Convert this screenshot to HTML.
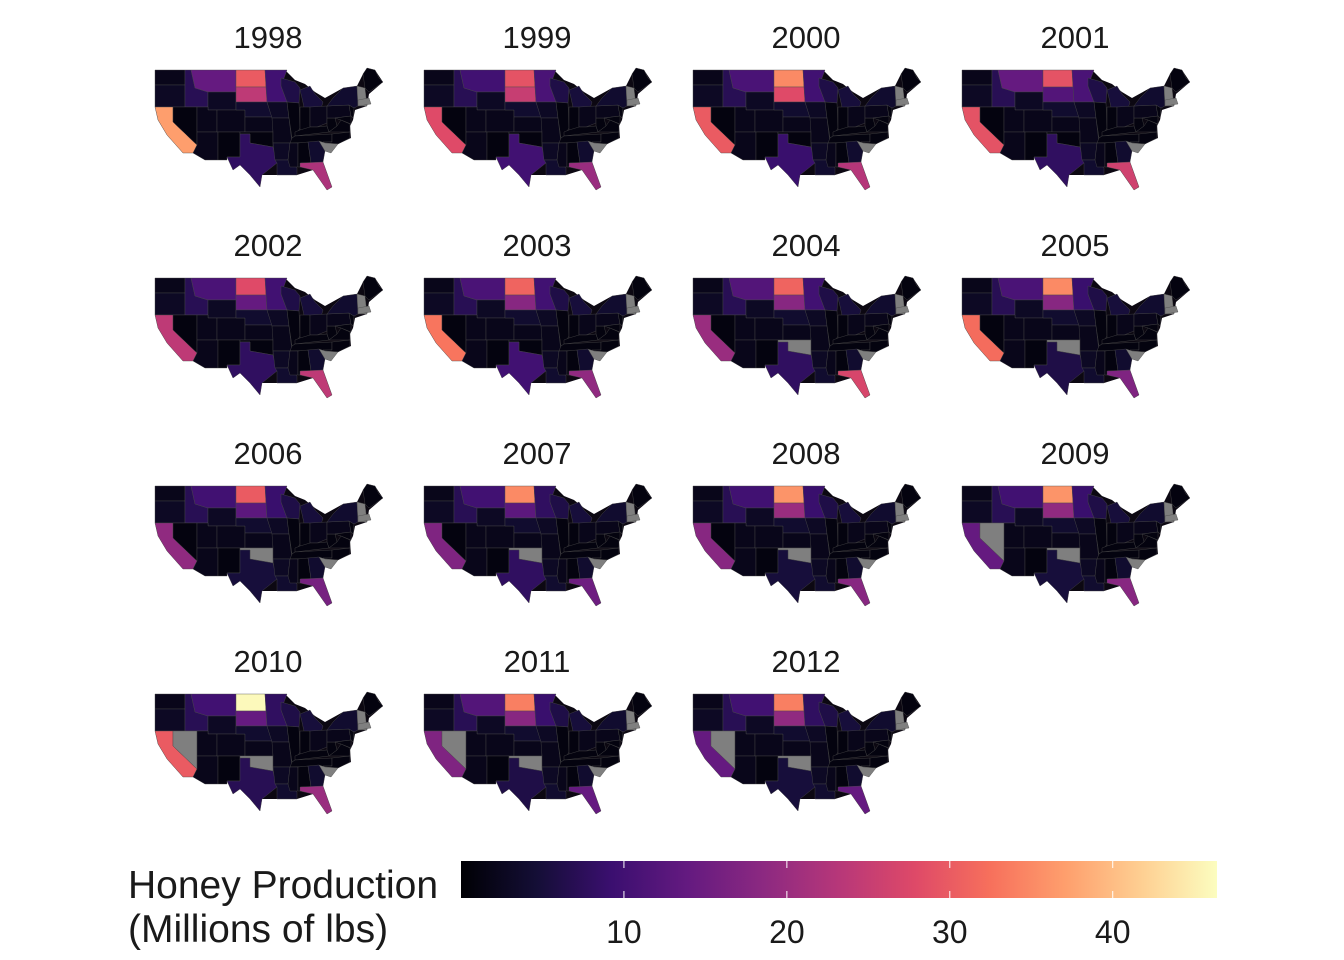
<!DOCTYPE html>
<html><head><meta charset="utf-8"><style>
body{margin:0;background:#fff;}
svg{display:block;font-family:"Liberation Sans",sans-serif;}
</style></head><body>
<svg id="chart" width="1344" height="960" viewBox="0 0 1344 960" xmlns="http://www.w3.org/2000/svg"></svg>
<script>
const years = [1998,1999,2000,2001,2002,2003,2004,2005,2006,2007,2008,2009,2010,2011,2012];
const ndVals = [30,29,35,29,28,31,31,35,30,35,36,36,46,34,34];
const caVals = [37,28,30,29,24,33,20,32,19,17,18,14,30,17,14];
const sdVals = [24,25,28,12,14,18,18,18,13,13,20,19,14,18,19];
const mtVals = [14,10,11,14,11,11,12,11,10,10,10,10,10,12,10];
const flVals = [22,20,23,26,24,19,27,17,16,15,18,18,20,14,14];
const mnVals = [10,11,10,11,10,10,10,9,9,8,9,9,8,9,8];
const txVals = [8,10,9,8,8,10,8,6,5,8,5,5,7,6,5];
const nvVals = [1,1,1,1,1,1,1,1,1,1,1,null,null,null,null];
const okVals = [1,1,1,1,1,1,null,null,null,null,null,null,null,null,null];
const legendTicks = [10,20,30,40];
const scaleMax = 46.4;

const outline=[[0,2],[130,2],[140,12],[150,16],[160,24],[170,30],[188,20],[202,18],[208,6],[212,0],[220,2],[228,14],[214,26],[212,38],[200,42],[198,52],[195,58],[196,70],[183,76],[170,83],[168,94],[177,119],[172,122],[158,102],[142,107],[122,107],[107,107],[105,119],[95,107],[85,97],[78,102],[72,89],[63,92],[50,92],[38,85],[28,85],[12,67],[3,52],[0,39]];
const shapes = {
 WA:[[0,2],[30,2],[30,17],[0,17]],
 OR:[[0,17],[30,17],[30,39],[0,39]],
 CA:[[0,39],[18,39],[18,54],[42,77],[38,85],[28,85],[12,67],[3,52]],
 ID:[[30,2],[36,2],[40,20],[53,24],[53,39],[30,39]],
 NV:[[18,39],[42,39],[42,77],[18,54]],
 MT:[[36,2],[81,2],[81,24],[53,24],[40,20]],
 WY:[[53,24],[81,24],[81,42],[53,42]],
 UT:[[42,39],[53,39],[53,42],[62,42],[62,64],[42,64]],
 CO:[[62,42],[90,42],[90,64],[62,64]],
 AZ:[[42,64],[63,64],[63,92],[50,92],[38,85],[42,77]],
 NM:[[63,64],[85,64],[85,89],[72,89],[72,92],[63,92]],
 ND:[[81,2],[110,2],[111,19],[81,19]],
 SD:[[81,19],[111,19],[112,34],[81,34]],
 NE:[[81,34],[112,34],[117,49],[90,49],[90,42],[81,42]],
 KS:[[90,49],[118,49],[118,64],[90,64]],
 OK:[[85,64],[118,64],[118,79],[95,75],[95,66],[85,66]],
 TX:[[72,89],[85,89],[85,66],[95,66],[95,75],[118,79],[122,95],[107,107],[105,119],[95,107],[85,97],[78,102]],
 MN:[[110,2],[132,2],[126,18],[132,34],[112,34],[111,19]],
 IA:[[112,34],[132,34],[134,50],[117,50]],
 MO:[[117,50],[134,50],[137,75],[118,75],[118,64]],
 AR:[[118,75],[135,75],[133,92],[120,92]],
 LA:[[120,92],[133,92],[142,100],[142,107],[122,107],[122,95]],
 WI:[[126,10],[140,14],[145,20],[144,35],[132,34],[126,18]],
 IL:[[132,34],[144,35],[145,60],[140,68],[137,70],[134,50]],
 MI:[[145,22],[155,18],[160,26],[168,34],[165,44],[150,44],[147,30]],
 IN:[[145,39],[155,39],[155,62],[145,64]],
 OH:[[155,39],[172,38],[172,55],[162,59],[155,59]],
 KY:[[140,64],[145,62],[155,59],[162,59],[172,58],[174,64],[140,68]],
 WV:[[172,50],[180,50],[182,58],[174,64],[172,58]],
 VA:[[174,64],[182,58],[186,52],[195,56],[195,64]],
 TN:[[137,70],[140,68],[177,66],[177,74],[135,75]],
 NC:[[168,74],[177,74],[177,66],[195,64],[195,70],[183,76],[170,75]],
 MS:[[135,75],[143,75],[143,99],[135,99],[133,92]],
 AL:[[143,75],[153,74],[156,95],[146,95],[145,99],[143,99]],
 GA:[[153,74],[164,73],[170,83],[168,94],[156,95]],
 SC:[[164,73],[170,75],[183,76],[176,85],[170,83]],
 FL:[[145,95],[168,94],[177,119],[172,122],[158,102],[145,99]],
 PA:[[172,38],[194,37],[196,48],[180,50],[172,50]],
 MD:[[180,50],[196,48],[196,56],[186,52]],
 NJ:[[194,37],[199,40],[198,50],[196,48]],
 NY:[[172,38],[178,30],[188,20],[202,18],[203,38],[199,40],[194,37]],
 NE_ENG:[[202,18],[210,20],[212,38],[203,38]],
 MA:[[203,32],[214,30],[216,36],[203,38]],
 ME:[[208,6],[212,0],[220,2],[224,10],[228,14],[214,24],[210,20]]
};
const keyVals = {ND:ndVals,CA:caVals,SD:sdVals,MT:mtVals,FL:flVals,MN:mnVals,TX:txVals,NV:nvVals,OK:okVals};
const baseVals = {WA:2,OR:3,ID:7,UT:2,CO:2,AZ:2,NM:1,WY:3,NE:4,KS:2,IA:3,MO:2,AR:3,LA:4,WI:6,IL:1,MI:5,IN:1,OH:2,KY:1,WV:1,VA:1,TN:1,NC:1,MS:2,AL:1,GA:4,SC:null,PA:2,MD:1,NJ:1,NY:4,NE_ENG:null,MA:null,ME:1};

const stops=["#000004","#140e36","#3b0f70","#641a80","#8c2981","#b73779","#de4968","#f7705c","#fe9f6d","#fecf92","#fcfdbf"];
function hex(h){return [1,3,5].map(i=>parseInt(h.substr(i,2),16));}
function magma(t){t=Math.max(0,Math.min(1,t));const p=t*10,i=Math.min(9,Math.floor(p)),f=p-i;const a=hex(stops[i]),b=hex(stops[i+1]);return "rgb("+a.map((v,k)=>Math.round(v+(b[k]-v)*f)).join(",")+")";}
function color(v){return v==null?"#7f7f7f":magma(v/scaleMax);}

const NS="http://www.w3.org/2000/svg";
const svg=document.getElementById('chart');
function mk(tag,attrs,parent){const e=document.createElementNS(NS,tag);for(const k in attrs)e.setAttribute(k,attrs[k]);(parent||svg).appendChild(e);return e;}

const colX=i=>155+i*269, rowY=i=>68+i*208;
years.forEach((yr,yi)=>{
  const c=yi%4,r=Math.floor(yi/4);
  const g=mk('g',{transform:`translate(${colX(c)},${rowY(r)})`});
  
  
  const t=mk('text',{x:113,y:-20,'text-anchor':'middle','font-size':31,fill:'#1a1a1a'},g);
  t.textContent=yr;
  
  
  const base=mk('polygon',{points:outline.map(q=>q.join(',')).join(' '),fill:'#0c0812',stroke:'none'},g);
  
  
  for(const st in shapes){
    const v=keyVals[st]?keyVals[st][yi]:baseVals[st];
    const p=mk('polygon',{points:shapes[st].map(q=>q.join(',')).join(' '),fill:color(v),stroke:'#4a4a4a','stroke-width':0.4},g);
    
    
  }
});

const lx0=461,lx1=1217,ly=861,lh=37;
const xs=v=>lx0+(v/scaleMax)*(lx1-lx0);
const defs=mk('defs',{});
const grad=mk('linearGradient',{id:'mg',x1:0,x2:1,y1:0,y2:0},defs);
stops.forEach((s,i)=>mk('stop',{offset:i/10,'stop-color':s},grad));
const bar=mk('rect',{x:lx0,y:ly,width:lx1-lx0,height:lh,fill:'url(#mg)'});


legendTicks.forEach(v=>{
  const x=xs(v);
  mk('line',{x1:x,x2:x,y1:ly,y2:ly+7,stroke:'#fff','stroke-width':1});
  mk('line',{x1:x,x2:x,y1:ly+lh-7,y2:ly+lh,stroke:'#fff','stroke-width':1});
  const t=mk('text',{x:x,y:943,'text-anchor':'middle','font-size':32,fill:'#1a1a1a'});
  t.textContent=v;
  
  
});
const lt=mk('text',{x:128,y:898,'font-size':39,fill:'#1a1a1a'});


mk('tspan',{x:128,y:898},lt).textContent='Honey Production';
mk('tspan',{x:128,y:942},lt).textContent='(Millions of lbs)';
</script>
</body></html>
